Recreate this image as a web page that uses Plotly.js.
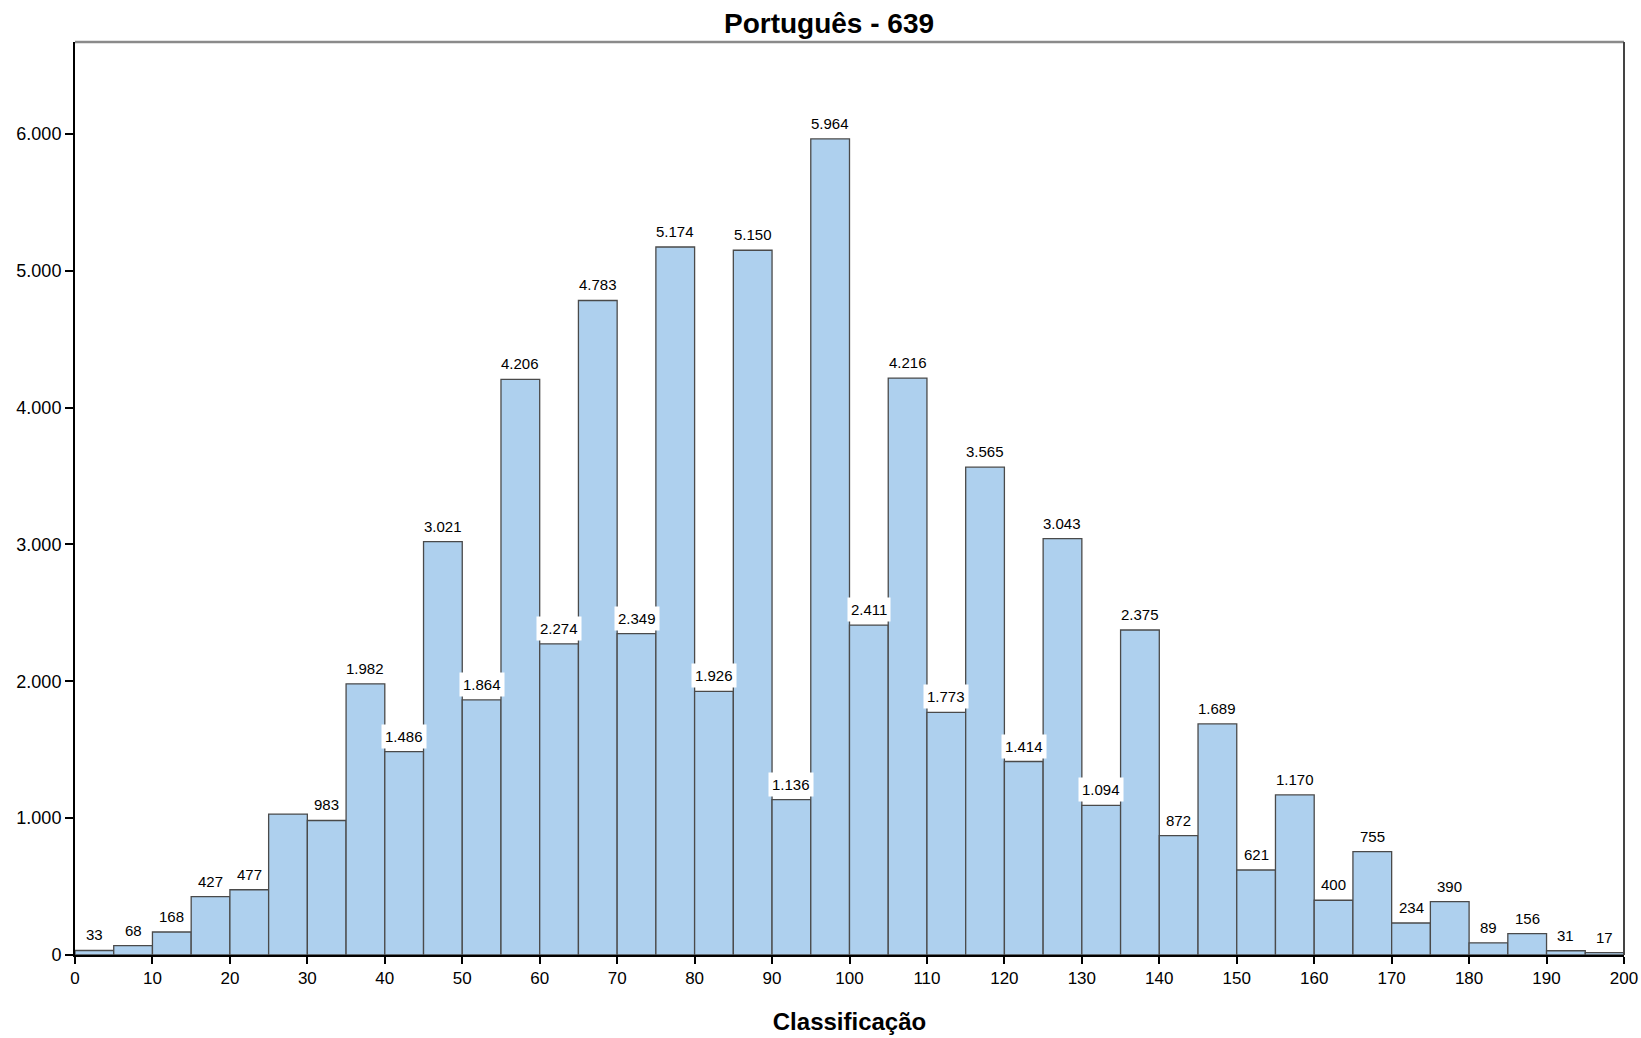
<!DOCTYPE html>
<html>
<head>
<meta charset="utf-8">
<script src="https://cdn.plot.ly/plotly-3.0.1.min.js"></script>
<style>html,body{margin:0;padding:0;background:#fff;}#chart{width:1641px;height:1038px;}</style>
</head>
<body>
<div id="chart"></div>
<script>
// Bin lower edges (width 5) and counts
const binStarts = [0,5,10,15,20,25,30,35,40,45,50,55,60,65,70,75,80,85,90,95,100,105,110,115,120,125,130,135,140,145,150,155,160,165,170,175,180,185,190,195];
const counts = [33,68,168,427,477,1030,983,1982,1486,3021,1864,4206,2274,4783,2349,5174,1926,5150,1136,5964,2411,4216,1773,3565,1414,3043,1094,2375,872,1689,621,1170,400,755,234,390,89,156,31,17];
const unlabeledBins = [25];
const binWidth = 5;
const xTicks = [0,10,20,30,40,50,60,70,80,90,100,110,120,130,140,150,160,170,180,190,200];
const yTicks = [0,1000,2000,3000,4000,5000,6000];
const titleText = "Português - 639";
const xTitle = "Classificação";

function fmt(v){ return String(v).replace(/\B(?=(\d{3})+(?!\d))/g, "."); }

const centers = binStarts.map(s => s + binWidth/2);

const trace = {
  type: 'bar',
  x: centers,
  y: counts,
  width: binStarts.map(() => binWidth),
  marker: {color: '#aed0ee', line: {color: '#4a4a4a', width: 1.3}},
  hoverinfo: 'x+y'
};

const annotations = [];
binStarts.forEach((s, i) => {
  if (unlabeledBins.includes(s)) return;
  annotations.push({
    x: centers[i], y: counts[i], xref: 'x', yref: 'y',
    text: fmt(counts[i]), showarrow: false,
    yanchor: 'bottom', xanchor: 'center', yshift: 3,
    bgcolor: '#ffffff', borderpad: 3,
    font: {family: 'Liberation Sans, Arial, sans-serif', size: 15, color: '#000'}
  });
});

const layout = {
  width: 1641, height: 1038,
  margin: {l: 75, r: 17, t: 42, b: 83},
  paper_bgcolor: '#fff', plot_bgcolor: '#fff',
  separators: ',.',
  showlegend: false,
  bargap: 0,
  font: {family: 'Liberation Sans, Arial, sans-serif', color: '#000'},
  title: {
    text: '<b>' + titleText + '</b>',
    x: 829/1641, xref: 'container', xanchor: 'center',
    y: 1 - 23/1038, yref: 'container', yanchor: 'middle',
    font: {family: 'Liberation Sans, Arial, sans-serif', size: 28, color: '#000'}
  },
  xaxis: {
    range: [0, 200], tickvals: xTicks, ticktext: xTicks.map(String),
    ticks: 'outside', ticklen: 7, tickwidth: 2, tickcolor: '#000',
    showline: true, linecolor: '#000', linewidth: 2,
    showgrid: false, zeroline: false,
    tickfont: {size: 17, color: '#000'},
    title: {text: '<b>' + xTitle + '</b>', standoff: 26, font: {size: 24, color: '#000'}},
    automargin: false
  },
  yaxis: {
    range: [0, 6672], tickvals: yTicks, ticktext: yTicks.map(fmt),
    ticks: 'outside', ticklen: 8, tickwidth: 2, tickcolor: '#000',
    showline: true, linecolor: '#000', linewidth: 2,
    showgrid: false, zeroline: false,
    tickfont: {size: 18, color: '#000'},
    automargin: false
  },
  shapes: [
    {type: 'line', xref: 'paper', yref: 'paper', x0: 0, x1: 1, y0: 1, y1: 1, line: {color: '#8a8a8a', width: 2.5}},
    {type: 'line', xref: 'paper', yref: 'paper', x0: 1, x1: 1, y0: 0, y1: 1, line: {color: '#444', width: 2}}
  ],
  annotations: annotations
};

Plotly.newPlot('chart', [trace], layout, {displayModeBar: false, staticPlot: true});
</script>
</body>
</html>
